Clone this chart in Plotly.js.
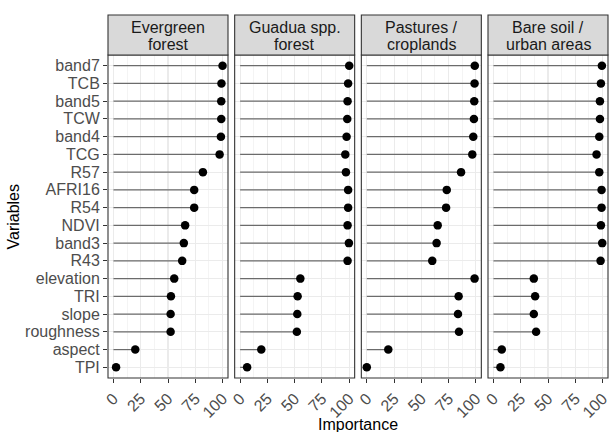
<!DOCTYPE html>
<html>
<head>
<meta charset="utf-8">
<script src="https://cdn.plot.ly/plotly-3.0.1.min.js"></script>
<style>html,body{margin:0;padding:0;background:#fff;}#chart{width:609px;height:432px;}</style>
</head>
<body>
<div id="chart"></div>
<script>
const variables = ["band7","TCB","band5","TCW","band4","TCG","R57","AFRI16","R54","NDVI","band3","R43","elevation","TRI","slope","roughness","aspect","TPI"];
const panelTitles = [["Evergreen","forest"],["Guadua spp.","forest"],["Pastures /","croplands"],["Bare soil /","urban areas"]];
const evergreen = [100,99,98.8,98.8,98.5,97.3,82,74,74,65.7,64.5,63,55.7,52.7,52.4,52.4,20,2.4];
const guadua    = [100,99,98.5,98.2,97.6,96.4,97,99,99,98.5,99.7,98.5,55.2,52.7,52.4,52,19.4,6.4];
const pastures  = [99,98.8,98.5,98.2,97.6,96.7,86.4,73.3,72.7,65,64,60,98.8,84.2,83.6,84.5,19.7,0];
const baresoil  = [99.4,98.5,97.6,97.6,97,94.5,97,99.1,99.1,98.5,99.7,98.2,37,38.2,37,39.1,7.6,6.4];
const series = [evergreen, guadua, pastures, baresoil];
const xTicks = [0,25,50,75,100];

const FONT = "Liberation Sans, Arial, sans-serif";
const traces = [];
const shapes = [];
const annotations = [];
const W = 609, H = 432, ML = 108, MR = 1, MT = 55, MB = 54;
const plotW = W - ML - MR, plotH = H - MT - MB;
const panelW = 120, gap = (plotW - 4*panelW)/3;
const layout = {
  width: W, height: H,
  margin: {l: ML, r: MR, t: MT, b: MB, pad: 0},
  paper_bgcolor: "#fff", plot_bgcolor: "#fff",
  showlegend: false,
  font: {family: FONT, size: 16, color: "#4D4D4D"},
  yaxis: {
    type: "category", categoryorder: "array", categoryarray: variables,
    tickmode: "array", tickvals: variables, ticktext: variables,
    range: [variables.length - 0.4, -0.6],
    showgrid: true, gridcolor: "#EBEBEB", gridwidth: 1.1,
    zeroline: false, showline: false,
    ticks: "outside", ticklen: 4, tickcolor: "#333333", tickwidth: 1,
    tickfont: {family: FONT, size: 16, color: "#4D4D4D"},
    ticklabeloverflow: "allow",
    domain: [0, 1]
  }
};

series.forEach((vals, i) => {
  const xname = i === 0 ? "x" : "x" + (i + 1);
  const axKey = i === 0 ? "xaxis" : "xaxis" + (i + 1);
  const sx = [], sy = [];
  vals.forEach((v, j) => { sx.push(0, v, null); sy.push(variables[j], variables[j], null); });
  traces.push({type: "scatter", mode: "lines", x: sx, y: sy, xaxis: xname, yaxis: "y",
    line: {color: "#6b6b6b", width: 1.2}, hoverinfo: "skip"});
  traces.push({type: "scatter", mode: "markers", x: vals, y: variables, xaxis: xname, yaxis: "y",
    marker: {color: "#000000", size: 8.5}});
  const d0 = i * (panelW + gap) / plotW, d1 = (i * (panelW + gap) + panelW) / plotW;
  layout[axKey] = {
    domain: [d0, d1], range: [-5, 105], anchor: "y",
    tickmode: "array", tickvals: xTicks, ticktext: xTicks.map(String), tickangle: -45,
    ticklabeloverflow: "allow",
    showgrid: true, gridcolor: "#EBEBEB", gridwidth: 1.1,
    minor: {tick0: 12.5, dtick: 25, showgrid: true, gridcolor: "#EBEBEB", gridwidth: 0.55, ticks: ""},
    zeroline: false, showline: false,
    ticks: "outside", ticklen: 4, tickcolor: "#333333", tickwidth: 1,
    tickfont: {family: FONT, size: 16, color: "#4D4D4D"}
  };
  shapes.push({type: "rect", xref: xname + " domain", yref: "paper", x0: 0, x1: 1, y0: 0, y1: 1,
    line: {color: "#333333", width: 1.1}, fillcolor: "rgba(0,0,0,0)", layer: "above"});
  const stripTop = (plotH + MT - 15) / plotH;
  shapes.push({type: "rect", xref: xname + " domain", yref: "paper", x0: 0, x1: 1, y0: 1, y1: stripTop,
    line: {color: "#333333", width: 1.1}, fillcolor: "#D9D9D9", layer: "above"});
  const cx = (d0 + d1) / 2;
  [27, 44].forEach((py, k) => {
    annotations.push({xref: "paper", yref: "paper", x: cx, y: (MT + plotH - py) / plotH,
      xanchor: "center", yanchor: "middle", showarrow: false,
      text: panelTitles[i][k], font: {family: FONT, size: 16, color: "#1A1A1A"}});
  });
});

annotations.push({xref: "paper", yref: "paper", x: 0.5, y: (MT + plotH - 424) / plotH,
  xanchor: "center", yanchor: "middle", showarrow: false, text: "Importance",
  font: {family: FONT, size: 16, color: "#000000"}});
annotations.push({xref: "paper", yref: "paper", x: (13 - ML) / plotW, y: 0.5,
  xanchor: "center", yanchor: "middle", showarrow: false, text: "Variables", textangle: -90,
  font: {family: FONT, size: 16, color: "#000000"}});

layout.shapes = shapes;
layout.annotations = annotations;
Plotly.newPlot("chart", traces, layout, {displayModeBar: false, staticPlot: true});
</script>
</body>
</html>
